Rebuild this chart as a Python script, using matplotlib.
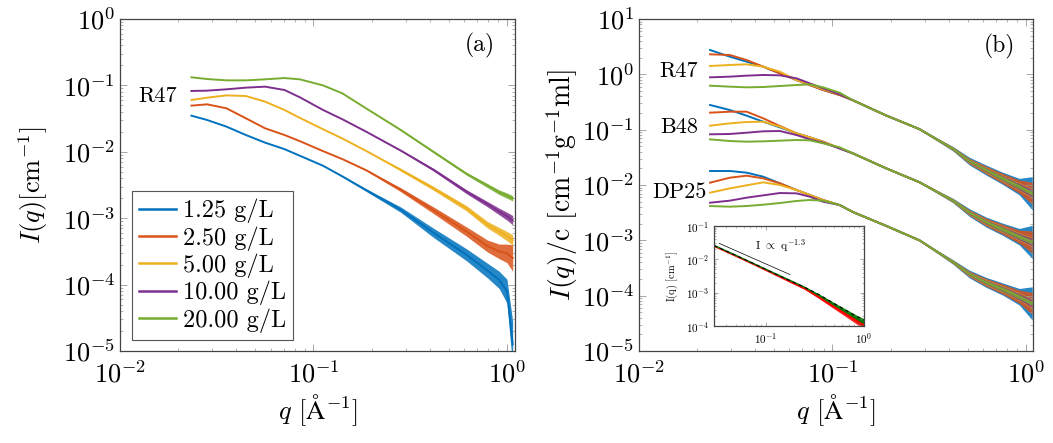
import matplotlib
matplotlib.use('Agg')
import matplotlib.pyplot as plt
from matplotlib.ticker import LogLocator, NullFormatter
import numpy as np

plt.rcParams['font.family'] = ['cmr10', 'DejaVu Serif']
plt.rcParams['mathtext.fontset'] = 'cm'
plt.rcParams['axes.formatter.use_mathtext'] = True

conc_labels = ['1.25 g/L', '2.50 g/L', '5.00 g/L', '10.00 g/L', '20.00 g/L']
colors = ['#0072BD', '#D95319', '#EDB120', '#7E2F8E', '#77AC30']

# ---- panel (a): R47, log10 of I(q) [cm^-1]
q_a = [0.0234, 0.0282, 0.0355, 0.0447, 0.0562, 0.0708, 0.0851, 0.112, 0.141,
       0.188, 0.282, 0.417, 0.617, 0.794, 0.912, 1.0, 1.07]
logI_a_125 = [-1.456, -1.521, -1.621, -1.747, -1.862, -1.960, -2.06, -2.21, -2.37,
              -2.58, -2.87, -3.22, -3.55, -3.79, -3.93, -4.10, -4.90]
logI_a_250 = [-1.305, -1.285, -1.345, -1.495, -1.646, -1.747, -1.84, -1.99, -2.11,
              -2.28, -2.57, -2.88, -3.20, -3.42, -3.50, -3.53, -3.60]
logI_a_500 = [-1.220, -1.185, -1.150, -1.160, -1.245, -1.370, -1.49, -1.66, -1.80,
              -1.99, -2.27, -2.55, -2.85, -3.10, -3.20, -3.27, -3.33]
logI_a_1000 = [-1.084, -1.079, -1.059, -1.034, -1.019, -1.069, -1.18, -1.37, -1.51,
               -1.70, -1.98, -2.27, -2.60, -2.79, -2.90, -2.97, -3.03]
logI_a_2000 = [-0.878, -0.904, -0.924, -0.924, -0.909, -0.889, -0.909, -1.00, -1.12,
               -1.35, -1.67, -2.00, -2.33, -2.51, -2.61, -2.66, -2.70]
# scatter of the noisy high-q data (half width, decades)
noise_a_125 = [0, 0, 0, 0, 0, 0, 0, 0, 0.01, 0.02, 0.04, 0.07, 0.09, 0.11, 0.13, 0.18, 0.35]
noise_a_250 = [0, 0, 0, 0, 0, 0, 0, 0, 0, 0.01, 0.03, 0.05, 0.07, 0.09, 0.11, 0.14, 0.20]
noise_a_500 = [0, 0, 0, 0, 0, 0, 0, 0, 0, 0, 0.02, 0.03, 0.04, 0.05, 0.06, 0.07, 0.08]
noise_a_1000 = [0, 0, 0, 0, 0, 0, 0, 0, 0, 0, 0.01, 0.02, 0.03, 0.04, 0.05, 0.06, 0.07]
noise_a_2000 = [0, 0, 0, 0, 0, 0, 0, 0, 0, 0, 0.01, 0.015, 0.02, 0.03, 0.035, 0.04, 0.04]

# ---- panel (b): I(q)/c, log10, low-q part per concentration + common tail
q_b = [0.0233, 0.0295, 0.0360, 0.0439, 0.0535, 0.0652, 0.0764, 0.0895, 0.109,
       0.128, 0.190, 0.282, 0.420, 0.512, 0.624, 0.760, 0.927, 1.08]
r47_low = [[0.440, 0.319, 0.229, 0.138, 0.018, -0.102, -0.193, -0.283, -0.374],
           [0.362, 0.349, 0.259, 0.138, 0.018, -0.102, -0.193, -0.283, -0.374],
           [0.151, 0.169, 0.181, 0.138, 0.048, -0.102, -0.181, -0.270, -0.360],
           [-0.054, -0.042, -0.024, -0.012, -0.018, -0.072, -0.163, -0.253, -0.360],
           [-0.205, -0.223, -0.235, -0.229, -0.211, -0.193, -0.181, -0.235, -0.331]]
r47_tail = [-0.47, -0.745, -0.99, -1.345, -1.57, -1.73, -1.88, -2.03, -2.15]
b48_low = [[-0.554, -0.645, -0.747, -0.856, -0.958, -1.066, -1.139, -1.217, -1.337],
           [-0.693, -0.675, -0.675, -0.795, -0.934, -1.066, -1.139, -1.217, -1.337],
           [-0.928, -0.886, -0.862, -0.856, -0.946, -1.066, -1.139, -1.220, -1.330],
           [-1.084, -1.078, -1.055, -1.030, -1.024, -1.097, -1.175, -1.235, -1.340],
           [-1.175, -1.205, -1.217, -1.211, -1.199, -1.187, -1.193, -1.247, -1.319]]
b48_tail = [-1.43, -1.70, -1.95, -2.28, -2.50, -2.67, -2.80, -2.935, -3.03]
dp25_low = [[-1.747, -1.747, -1.777, -1.850, -1.970, -2.091, -2.181, -2.271, -2.362],
            [-1.958, -1.868, -1.832, -1.880, -1.970, -2.091, -2.181, -2.271, -2.362],
            [-2.139, -2.061, -2.006, -1.952, -2.000, -2.091, -2.181, -2.271, -2.362],
            [-2.320, -2.283, -2.229, -2.187, -2.145, -2.151, -2.211, -2.302, -2.362],
            [-2.380, -2.392, -2.380, -2.356, -2.326, -2.289, -2.271, -2.283, -2.362]]
dp25_tail = [-2.49, -2.74, -3.00, -3.39, -3.61, -3.76, -3.88, -4.02, -4.14]
noise_b = [[0, 0, 0, 0, 0, 0, 0, 0, 0, 0, 0, 0.01, 0.04, 0.07, 0.09, 0.11, 0.15, 0.30],
           [0, 0, 0, 0, 0, 0, 0, 0, 0, 0, 0, 0.01, 0.03, 0.05, 0.07, 0.09, 0.12, 0.20],
           [0, 0, 0, 0, 0, 0, 0, 0, 0, 0, 0, 0.01, 0.03, 0.04, 0.05, 0.06, 0.07, 0.08],
           [0, 0, 0, 0, 0, 0, 0, 0, 0, 0, 0, 0.0, 0.02, 0.03, 0.04, 0.05, 0.06, 0.07],
           [0, 0, 0, 0, 0, 0, 0, 0, 0, 0, 0, 0.0, 0.015, 0.02, 0.03, 0.04, 0.04, 0.04]]
samples_b = ['R47', 'B48', 'DP25']

# ---- inset: I(q) [cm^-1], log10
q_in = [0.03, 0.05, 0.08, 0.12, 0.18, 0.25, 0.35, 0.5, 0.7, 0.85, 1.0]
logI_in_red = [-1.60, -1.90, -2.18, -2.43, -2.68, -2.88, -3.14, -3.43, -3.70, -3.85, -3.98]
logI_in_green = [-1.58, -1.88, -2.16, -2.40, -2.64, -2.84, -3.08, -3.36, -3.62, -3.78, -3.90]
logI_in_black = [-1.59, -1.88, -2.16, -2.41, -2.65, -2.84, -3.06, -3.33, -3.58, -3.72, -3.82]
noise_in = [0, 0, 0, 0, 0.01, 0.02, 0.04, 0.06, 0.08, 0.10, 0.12]
guide_q = [0.034, 0.177]
guide_I = [0.030, 0.0035]


def style_axes(ax, size):
    ax.set_xscale('log')
    ax.set_yscale('log')
    for axis in (ax.xaxis, ax.yaxis):
        axis.set_major_locator(LogLocator(base=10, numticks=20))
        axis.set_minor_locator(LogLocator(base=10, subs=np.arange(2, 10), numticks=20))
        axis.set_minor_formatter(NullFormatter())
    ax.tick_params(which='both', direction='in', top=True, right=True,
                   color='#999999', labelsize=size)
    ax.tick_params(which='major', length=5, width=0.6)
    ax.tick_params(which='minor', length=2.5, width=0.5)
    for sp in ax.spines.values():
        sp.set_color('#444444')
        sp.set_linewidth(0.9)


def draw(ax, q, logI, noise, color, lw=1.4, label=None):
    q = np.array(q)
    I = np.power(10.0, logI)
    s = np.power(10.0, noise)
    ax.fill_between(q, I / s, I * s, color=color, lw=0, alpha=0.85)
    ax.plot(q, I, color=color, lw=lw, label=label)


fig = plt.figure(figsize=(10.53, 4.43), dpi=100)
fig.patch.set_facecolor('white')

# ---------------- panel (a)
ax1 = fig.add_axes([120 / 1053, 92 / 443, 395 / 1053, 332 / 443])
style_axes(ax1, 19)
ax1.tick_params(axis='x', which='major', pad=7)
curves_a = [logI_a_125, logI_a_250, logI_a_500, logI_a_1000, logI_a_2000]
noises_a = [noise_a_125, noise_a_250, noise_a_500, noise_a_1000, noise_a_2000]
for logI, nz, c, lab in zip(curves_a, noises_a, colors, conc_labels):
    draw(ax1, q_a, logI, nz, c, label=lab)
ax1.set_xlim(0.01, 1.1)
ax1.set_ylim(1e-5, 1)
ax1.set_xlabel(r'$q$ [$\mathrm{\AA}^{-1}$]', fontsize=19, labelpad=3)
ax1.set_ylabel(r'$I(q)$[cm$^{-1}$]', fontsize=19, labelpad=9)
ax1.text(0.096, 0.767, 'R47', transform=ax1.transAxes, fontsize=16,
         ha='center', va='center')
ax1.text(0.911, 0.92, '(a)', transform=ax1.transAxes, fontsize=17,
         ha='center', va='center')
leg = ax1.legend(loc='lower left', fontsize=17.5, frameon=True, fancybox=False,
                 edgecolor='#555555', framealpha=1, handlelength=1.5,
                 handletextpad=0.3, borderpad=0.3, labelspacing=0.12,
                 borderaxespad=0, bbox_to_anchor=(0.03, 0.033))
leg.get_frame().set_linewidth(0.8)
for h in leg.get_lines():
    h.set_linewidth(1.8)

# ---------------- panel (b)
ax2 = fig.add_axes([639 / 1053, 92 / 443, 394 / 1053, 332 / 443])
style_axes(ax2, 19)
ax2.tick_params(axis='x', which='major', pad=7)
for low, tail in [(r47_low, r47_tail), (b48_low, b48_tail), (dp25_low, dp25_tail)]:
    for k in range(5):
        draw(ax2, q_b, low[k] + tail, noise_b[k], colors[k])
ax2.set_xlim(0.01, 1.09)
ax2.set_ylim(1e-5, 10)
ax2.set_xlabel(r'$q$ [$\mathrm{\AA}^{-1}$]', fontsize=19, labelpad=3)
ax2.set_ylabel(r'$I(q)$/c [cm$^{-1}$g$^{-1}$ml]', fontsize=20, labelpad=1)
for name, yy in zip(samples_b, [0.843, 0.675, 0.479]):
    ax2.text(0.1015, yy, name, transform=ax2.transAxes, fontsize=16,
             ha='center', va='center')
ax2.text(0.916, 0.917, '(b)', transform=ax2.transAxes, fontsize=17,
         ha='center', va='center')

# ---------------- inset
ax3 = fig.add_axes([714 / 1053, 117 / 443, 150 / 1053, 100 / 443])
style_axes(ax3, 8)
ax3.tick_params(which='major', length=3)
ax3.tick_params(which='minor', length=1.5)
draw(ax3, q_in, logI_in_red, noise_in, 'red', lw=1.3)
draw(ax3, q_in, logI_in_green, noise_in, '#007a00', lw=1.0)
ax3.plot(q_in, np.power(10.0, logI_in_black), color='black', lw=0.8, ls=(0, (3, 3)))
ax3.plot(guide_q, guide_I, color='black', lw=0.5)
ax3.text(0.44, 0.8, r'I $\propto$ q$^{\mathregular{-1.3}}$', transform=ax3.transAxes,
         fontsize=8.5, ha='center', va='center')
ax3.set_xlim(0.03, 1)
ax3.set_ylim(1e-4, 1e-1)
ax3.set_ylabel(r'I(q) [cm$^{\mathregular{-1}}$]', fontsize=7.5, labelpad=4)

fig.savefig('out.png', dpi=100, facecolor='white')
